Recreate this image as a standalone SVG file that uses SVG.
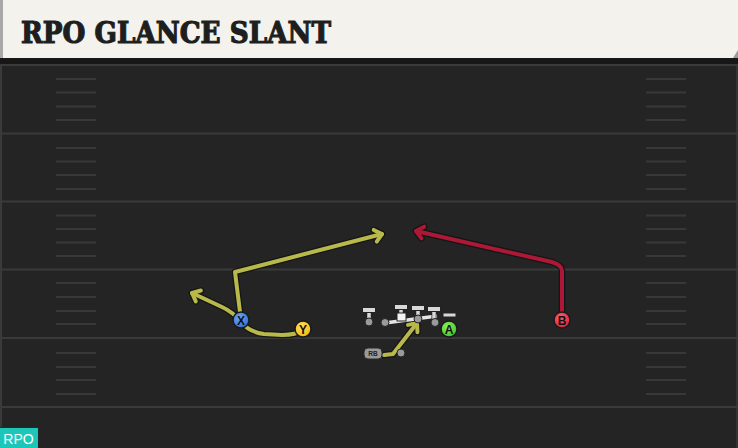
<svg xmlns="http://www.w3.org/2000/svg" width="738" height="448" viewBox="0 0 738 448">
<defs>
<style>
.yl{stroke:#3a3a3a;stroke-width:2;fill:none}
.hash{stroke:#383838;stroke-width:2;fill:none}
.out{fill:none;stroke:#151515;stroke-width:6.5;stroke-linejoin:round;stroke-linecap:round}
.ry{fill:none;stroke:#b8b94a;stroke-width:4;stroke-linejoin:round;stroke-linecap:round}
.rr{fill:none;stroke:#ad1836;stroke-width:4;stroke-linejoin:round;stroke-linecap:round}
.lbl{font-family:"Liberation Sans",Arial,sans-serif;font-weight:bold;text-anchor:middle;fill:#111}
.ol{fill:#d8d8d8;stroke:#222;stroke-width:1}
.dot{fill:#9a9a9a;stroke:#222;stroke-width:1}
</style>
<marker id="mo" markerUnits="userSpaceOnUse" overflow="visible" orient="auto" refX="0" refY="0" markerWidth="20" markerHeight="20">
<path d="M-7,-6 L0,0 L-7,6" fill="none" stroke="#151515" stroke-width="6.5" stroke-linecap="round" stroke-linejoin="round"/>
</marker>
<marker id="my" markerUnits="userSpaceOnUse" overflow="visible" orient="auto" refX="0" refY="0" markerWidth="20" markerHeight="20">
<path d="M-7,-6 L0,0 L-7,6" fill="none" stroke="#b8b94a" stroke-width="4" stroke-linecap="round" stroke-linejoin="round"/>
</marker>
<marker id="mr" markerUnits="userSpaceOnUse" overflow="visible" orient="auto" refX="0" refY="0" markerWidth="20" markerHeight="20">
<path d="M-7,-6 L0,0 L-7,6" fill="none" stroke="#ad1836" stroke-width="4" stroke-linecap="round" stroke-linejoin="round"/>
</marker>
<radialGradient id="gb" cx="0.4" cy="0.35" r="0.7"><stop offset="0" stop-color="#6aa6f5"/><stop offset="1" stop-color="#2f6fd6"/></radialGradient>
<radialGradient id="gy" cx="0.4" cy="0.35" r="0.7"><stop offset="0" stop-color="#ffe060"/><stop offset="1" stop-color="#f0b810"/></radialGradient>
<radialGradient id="gg" cx="0.4" cy="0.35" r="0.7"><stop offset="0" stop-color="#8cf060"/><stop offset="1" stop-color="#44c02a"/></radialGradient>
<radialGradient id="gr" cx="0.4" cy="0.35" r="0.7"><stop offset="0" stop-color="#ff6070"/><stop offset="1" stop-color="#d8203a"/></radialGradient>
</defs>

<g id="field">
<rect x="0" y="0" width="738" height="448" fill="#242424"/>
<rect x="0" y="58" width="738" height="6" fill="#171717"/>
<rect x="0" y="64" width="2" height="384" fill="#3a3a3a"/>
<rect x="736" y="64" width="2" height="384" fill="#343434"/>
<path class="yl" d="M0,65H738M0,133.5H738M0,201.5H738M0,269.5H738M0,338H738M0,407H738"/>
<path class="hash" d="M56,79H96M56,92.5H96M56,106.5H96M56,120H96M56,148H96M56,161.5H96M56,175H96M56,189H96M56,215.5H96M56,229H96M56,242.5H96M56,256H96M56,283H96M56,297H96M56,311H96M56,324H96M56,353H96M56,367H96M56,380H96M56,394H96"/>
<path class="hash" d="M646,79H686M646,92.5H686M646,106.5H686M646,120H686M646,148H686M646,161.5H686M646,175H686M646,189H686M646,215.5H686M646,229H686M646,242.5H686M646,256H686M646,283H686M646,297H686M646,311H686M646,324H686M646,353H686M646,367H686M646,380H686M646,394H686"/>
</g>

<g id="title">
<rect x="0" y="0" width="738" height="58" fill="#f4f2ec"/>
<rect x="0" y="0" width="3" height="58" fill="#a8a8a8"/>
<path d="M733,58 L738,50 L738,58 Z" fill="#9a9a9a"/>
<text x="21" y="42.5" font-family="'DejaVu Serif','Liberation Serif',serif" font-weight="bold" font-size="29" fill="#1e1e1e" stroke="#1e1e1e" stroke-width="1.2" textLength="310" lengthAdjust="spacingAndGlyphs">RPO GLANCE SLANT</text>
</g>

<g id="connectors">
<path class="out" d="M241,320 L235,272 L382,234" marker-end="url(#mo)"/>
<path class="ry" d="M241,320 L235,272 L382,234" marker-end="url(#my)"/>
<path class="out" d="M303,330 Q296,335 282,335 L264,334 Q249,332 241,322 Q233,312 222,307 L192,293" marker-end="url(#mo)"/>
<path class="ry" d="M303,330 Q296,335 282,335 L264,334 Q249,332 241,322 Q233,312 222,307 L192,293" marker-end="url(#my)"/>
<path class="out" d="M384,355 L393,354 L417,323" marker-end="url(#mo)"/>
<path class="ry" d="M384,355 L393,354 L417,323" marker-end="url(#my)"/>
<path class="out" d="M562,320 L562,271 Q562,265 552,262 L416,231" marker-end="url(#mo)"/>
<path class="rr" d="M562,320 L562,271 Q562,265 552,262 L416,231" marker-end="url(#mr)"/>
</g>

<g id="oline">
<path d="M369,311 V321" stroke="#222" stroke-width="5"/>
<path d="M369,311 V321" stroke="#d8d8d8" stroke-width="3.5"/>
<rect class="ol" x="362.5" y="307.5" width="13" height="5"/>
<circle class="dot" cx="369" cy="322" r="4"/>
<path d="M385,323 L437,316" stroke="#222" stroke-width="5"/>
<path d="M385,323 L437,316" stroke="#e4e4e4" stroke-width="3.5"/>
<circle class="dot" cx="385" cy="322.5" r="4"/>
<path d="M401,308 V316 M418,309 V318 M434,310 V321" stroke="#222" stroke-width="5"/>
<path d="M401,308 V316 M418,309 V318 M434,310 V321" stroke="#d8d8d8" stroke-width="3.5"/>
<rect class="ol" x="394.5" y="304.5" width="13" height="5"/>
<rect class="ol" x="411.5" y="305.5" width="13" height="5"/>
<rect class="ol" x="427.5" y="306.5" width="13" height="5"/>
<rect x="397" y="313" width="9" height="8" fill="#f4f4f4" stroke="#222" stroke-width="1"/>
<circle class="dot" cx="418" cy="319" r="4"/>
<circle class="dot" cx="435" cy="322.5" r="4"/>
<rect class="ol" x="443" y="313" width="13" height="4"/>
</g>

<g id="rb">
<rect x="364" y="348" width="18" height="11" rx="4" fill="#9a9a9a" stroke="#2a2a2a" stroke-width="1"/>
<text x="373" y="356" font-family="'Liberation Sans',Arial,sans-serif" font-size="6.5" font-weight="bold" text-anchor="middle" fill="#222">RB</text>
<circle class="dot" cx="401" cy="353" r="4"/>
</g>

<g id="X">
<circle cx="241" cy="320" r="8" fill="url(#gb)" stroke="#1a1a1a" stroke-width="1.5"/>
<text class="lbl" x="241" y="324.5" font-size="12">X</text>
</g>
<g id="Y">
<circle cx="303" cy="329" r="8" fill="url(#gy)" stroke="#1a1a1a" stroke-width="1.5"/>
<text class="lbl" x="303" y="333.5" font-size="12">Y</text>
</g>
<g id="A">
<circle cx="449" cy="329" r="8" fill="url(#gg)" stroke="#1a1a1a" stroke-width="1.5"/>
<text class="lbl" x="449" y="333.5" font-size="12">A</text>
</g>
<g id="B">
<circle cx="562" cy="320" r="8" fill="url(#gr)" stroke="#1a1a1a" stroke-width="1.5"/>
<text class="lbl" x="562" y="324.5" font-size="12">B</text>
</g>

<g id="badge">
<rect x="0" y="427" width="38" height="1" fill="#4a1a1a"/>
<rect x="0" y="428" width="38" height="20" fill="#1cc7b9"/>
<text x="18.5" y="444" font-family="'Liberation Sans',Arial,sans-serif" font-size="14" text-anchor="middle" fill="#ffffff">RPO</text>
</g>
</svg>
